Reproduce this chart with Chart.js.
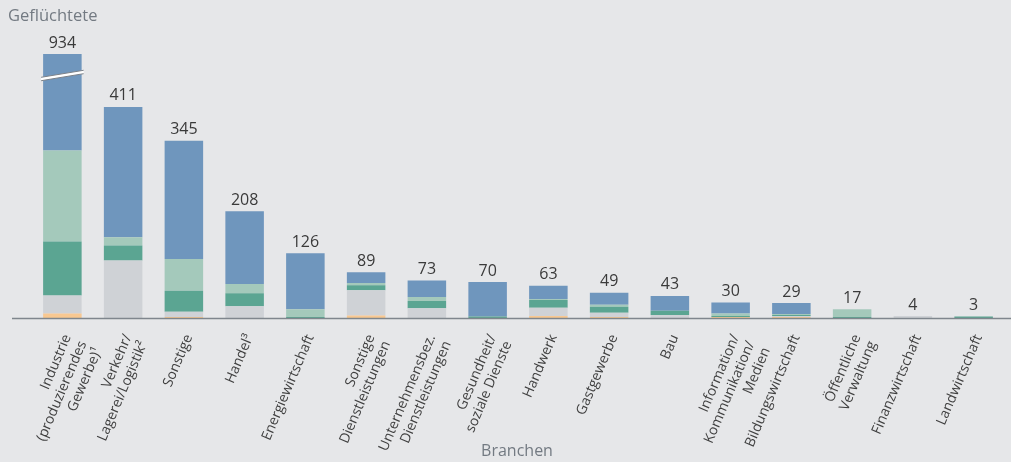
<!DOCTYPE html>
<html>
<head>
<meta charset="utf-8">
<script src="https://cdn.jsdelivr.net/npm/chart.js@4/dist/chart.umd.min.js"></script>
<style>
  html, body { margin: 0; padding: 0; background: #e6e7e9; }
  #wrap { width: 1011px; height: 462px; position: relative; }
</style>
</head>
<body>
<div id="wrap"><canvas id="branchenChart"></canvas></div>
<script>
const branchen = [
    ['Industrie', '(produzierendes', 'Gewerbe)¹'],
    ['Verkehr/', 'Lagerei/Logistik²'],
    'Sonstige',
    'Handel³',
    'Energiewirtschaft',
    ['Sonstige', 'Dienstleistungen'],
    ['Unternehmensbez.', 'Dienstleistungen'],
    ['Gesundheit/', 'soziale Dienste'],
    'Handwerk',
    'Gastgewerbe',
    'Bau',
    ['Information/', 'Kommunikation/', 'Medien'],
    'Bildungswirtschaft',
    ['Öffentliche', 'Verwaltung'],
    'Finanzwirtschaft',
    'Landwirtschaft'
];

// Segmente von unten nach oben
const werteOrange     = [9,   0,   2,   0,   0,   5,  0,  0,  4,  2,  0,  2,  2,  0, 0, 0];
const werteGrau       = [35,  112, 10,  23,  0,   49, 19, 0,  16, 8,  6,  0,  2,  0, 4, 0];
const werteDunkelgruen= [105, 29,  41,  25,  2,   10, 14, 3,  15, 12, 8,  2,  2,  2, 0, 3];
const werteHellgruen  = [177, 16,  62,  18,  15,  4,  8,  0,  2,  4,  0,  5,  2,  15, 0, 0];
const werteBlau       = [608, 254, 230, 142, 109, 21, 32, 67, 26, 23, 29, 21, 21, 0, 0, 0];

// Achse endet hier, Industrie wird abgeschnitten (Achsenbruch)
const yMax = 514;

const summen = branchen.map((b, i) =>
    werteOrange[i] + werteGrau[i] + werteDunkelgruen[i] + werteHellgruen[i] + werteBlau[i]);

const textPlugin = {
    id: 'texte',
    afterDatasetsDraw(chart) {
        const ctx = chart.ctx;
        const area = chart.chartArea;
        const yScale = chart.scales.y;
        const meta = chart.getDatasetMeta(4);

        ctx.save();

        // Achsenbruch beim ersten Balken
        const bar = meta.data[0];
        const bx1 = bar.x - bar.width / 2 - 2;
        const bx2 = bar.x + bar.width / 2 + 2;
        const by = area.top + 21.5;
        const dy = (bx2 - bx1) * 0.165 / 2;
        ctx.beginPath();
        ctx.moveTo(bx1, by + dy - 1.7);
        ctx.lineTo(bx2, by - dy - 1.7);
        ctx.lineTo(bx2, by - dy + 1.7);
        ctx.lineTo(bx1, by + dy + 1.7);
        ctx.closePath();
        ctx.fillStyle = '#ffffff';
        ctx.fill();
        ctx.strokeStyle = '#7b8189';
        ctx.lineWidth = 1;
        ctx.beginPath();
        ctx.moveTo(bx1, by + dy - 1.7);
        ctx.lineTo(bx2, by - dy - 1.7);
        ctx.moveTo(bx1, by + dy + 1.7);
        ctx.lineTo(bx2, by - dy + 1.7);
        ctx.stroke();

        // Summen über den Balken
        ctx.fillStyle = '#3a3a3a';
        ctx.font = '16px "Open Sans"';
        ctx.textAlign = 'center';
        ctx.textBaseline = 'bottom';
        summen.forEach((s, i) => {
            const x = meta.data[i].x;
            const y = Math.max(yScale.getPixelForValue(s), area.top);
            ctx.fillText(String(s), x, y - 3);
        });

        // x-Achsenlinie
        ctx.strokeStyle = '#7f868d';
        ctx.lineWidth = 1.5;
        ctx.beginPath();
        ctx.moveTo(12, area.bottom + 0.5);
        ctx.lineTo(chart.width, area.bottom + 0.5);
        ctx.stroke();

        // Achsentitel
        ctx.fillStyle = '#737a82';
        ctx.font = '16.5px "Open Sans"';
        ctx.textAlign = 'left';
        ctx.textBaseline = 'middle';
        ctx.fillText('Geflüchtete', 8, 16);
        ctx.font = '16px "Open Sans"';
        ctx.textAlign = 'center';
        ctx.fillText('Branchen', 517, 451);

        ctx.restore();
    }
};

const farben = ['#f8c891', '#cfd2d6', '#5ba592', '#a4c9bb', '#6f96bd'];

new Chart(document.getElementById('branchenChart'), {
    type: 'bar',
    data: {
        labels: branchen,
        datasets: [
            { label: 'Segment 1', data: werteOrange, backgroundColor: farben[0] },
            { label: 'Segment 2', data: werteGrau, backgroundColor: farben[1] },
            { label: 'Segment 3', data: werteDunkelgruen, backgroundColor: farben[2] },
            { label: 'Segment 4', data: werteHellgruen, backgroundColor: farben[3] },
            { label: 'Segment 5', data: werteBlau, backgroundColor: farben[4] }
        ]
    },
    options: {
        responsive: true,
        maintainAspectRatio: false,
        animation: false,
        layout: {
            padding: { top: 54, left: 32, right: 7, bottom: 0 }
        },
        datasets: {
            bar: { categoryPercentage: 1, barPercentage: 0.634, borderWidth: 0 }
        },
        plugins: {
            legend: { display: false },
            tooltip: { enabled: false }
        },
        scales: {
            x: {
                stacked: true,
                grid: { display: false },
                border: { display: false },
                afterFit(scale) { scale.height = 144; },
                ticks: {
                    minRotation: 67,
                    maxRotation: 67,
                    autoSkip: false,
                    padding: 6,
                    labelOffset: 5,
                    color: '#404040',
                    font: { family: 'Open Sans', size: 14, lineHeight: 1.2 }
                }
            },
            y: {
                stacked: true,
                display: false,
                min: 0,
                max: yMax
            }
        }
    },
    plugins: [textPlugin]
});
</script>
</body>
</html>
